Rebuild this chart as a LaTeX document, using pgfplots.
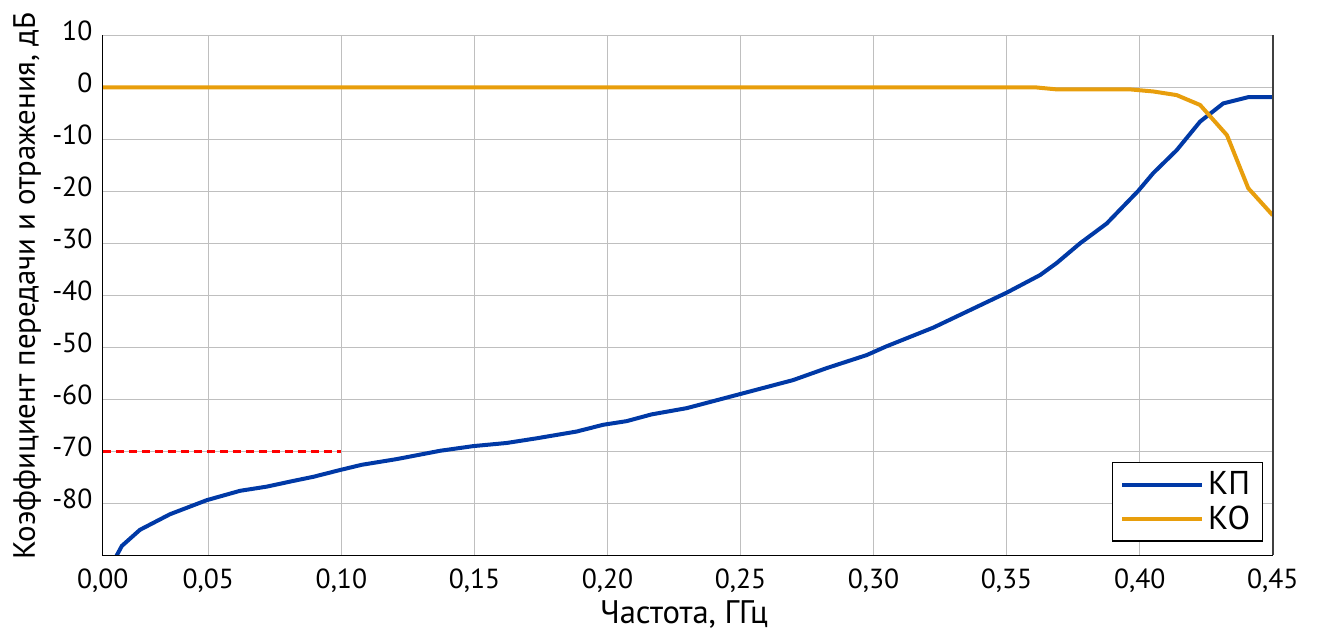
\documentclass[border=0pt]{standalone}
\usepackage{pgfplots}
\pgfplotsset{compat=1.18}
\usepackage{fontspec}
\setmainfont{PT Sans}
\definecolor{kpblue}{HTML}{0039A6}
\definecolor{koorange}{HTML}{E89E0C}
\begin{document}
\begin{tikzpicture}[x=1pt,y=1pt]
\useasboundingbox (-51.35,-37.85) rectangle (607.15,277.65);
\begin{axis}[
  at={(0,0)}, anchor=south west,
  scale only axis, width=585pt, height=260pt,
  xmin=0.0103, xmax=0.45, ymin=-90, ymax=10,
  xtick={0.0103,0.05,0.1,0.15,0.2,0.25,0.3,0.35,0.4,0.45},
  xticklabels={{0,00},{0,05},{0,10},{0,15},{0,20},{0,25},{0,30},{0,35},{0,40},{0,45}},
  ytick={-80,-70,-60,-50,-40,-30,-20,-10,0,10},
  yticklabels={-80,-70,-60,-50,-40,-30,-20,-10,0,10},
  grid=major, grid style={gray!50, line width=0.5pt},
  major tick length=0pt,
  axis line style={draw=none},
  tick label style={font=\fontsize{13.8}{16}\selectfont},
  xticklabel style={anchor=base, yshift=-16.4pt, inner sep=0pt},
  yticklabel style={anchor=mid east, xshift=-5pt, inner sep=0pt},
  xlabel={Частота, ГГц},
  ylabel={Коэффициент передачи и отражения, дБ},
  xlabel style={font=\fontsize{16.3}{19}\selectfont, at={(axis description cs:0.4968,-0.1321)}, anchor=base, inner sep=0pt},
  ylabel style={font=\fontsize{15.4}{18}\selectfont, at={(axis description cs:-0.0579,0.518)}, anchor=base, inner sep=0pt},
  legend style={at={(axis description cs:0.9915,0.0262)}, anchor=south east,
    draw=black, line width=0.6pt, font=\fontsize{16.5}{19}\selectfont,
    inner xsep=4pt, inner ysep=2.5pt, row sep=0pt,
    /tikz/every even column/.append style={column sep=1pt}},
  legend cell align=left,
  legend image code/.code={\draw[#1] (0pt,0pt) -- (40pt,0pt);},
]
\addplot[kpblue, line width=2pt] coordinates {
(0.0103,-95) (0.0175,-88.2) (0.0243,-85.1) (0.0356,-82.1) (0.0494,-79.4)
(0.0619,-77.6) (0.0719,-76.8) (0.0819,-75.7) (0.0895,-74.9) (0.0995,-73.6)
(0.1076,-72.6) (0.1208,-71.5) (0.1371,-69.9) (0.1496,-69.0) (0.1621,-68.4)
(0.1734,-67.5) (0.1884,-66.2) (0.1984,-64.9) (0.2072,-64.2) (0.2166,-62.9)
(0.2298,-61.7) (0.2498,-59.0) (0.2698,-56.3) (0.2824,-54.0) (0.2974,-51.5)
(0.3049,-49.8) (0.3225,-46.2) (0.3500,-39.5) (0.3626,-36.1) (0.3688,-33.8)
(0.3776,-30.0) (0.3876,-26.2) (0.3995,-19.9) (0.4051,-16.5) (0.4139,-12.1)
(0.4227,-6.6) (0.4314,-3.1) (0.4408,-1.9) (0.4500,-1.9)
};
\addlegendentry{КП}
\addplot[koorange, line width=2pt] coordinates {
(0.0103,0) (0.3606,0) (0.3688,-0.4) (0.3964,-0.4) (0.4051,-0.8)
(0.4139,-1.5) (0.4227,-3.4) (0.4328,-9.2) (0.4408,-19.4) (0.4500,-24.6)
};
\addlegendentry{КО}
\addplot[red, line width=1.5pt, dash pattern=on 4pt off 2.5pt, forget plot] coordinates {
(0.0103,-70) (0.0997,-70)
};
\end{axis}
\draw[black, line width=0.75pt] (0,260) -- (0,0) -- (585,0);
\draw[black!75, line width=1pt] (585,0) -- (585,260);
\end{tikzpicture}
\end{document}
